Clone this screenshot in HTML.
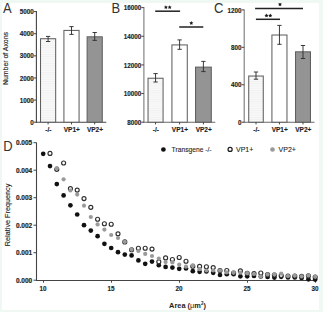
<!DOCTYPE html>
<html><head><meta charset="utf-8"><style>
html,body{margin:0;padding:0;background:#f0f8f4;}
body{width:323px;height:312px;position:relative;overflow:hidden;font-family:"Liberation Sans", sans-serif;}
svg text{font-family:"Liberation Sans", sans-serif;}
</style></head><body>
<svg width="323" height="312" viewBox="0 0 323 312" style="position:absolute;left:0;top:0">
<defs><pattern id="st" width="4" height="2.25" patternUnits="userSpaceOnUse"><rect width="4" height="2.25" fill="#f9f9f9"/><rect width="4" height="0.9" fill="#f0f0f0"/></pattern></defs>
<rect x="0" y="0" width="323" height="312" fill="#f0f8f4"/>
<rect x="2" y="3" width="317" height="307" fill="#ffffff"/>
<text x="0" y="0" font-size="14.4" fill="#333" transform="translate(3.0,12.6) scale(0.9,1)">A</text>
<text x="0" y="0" font-size="14.4" fill="#333" transform="translate(111.5,12.6) scale(0.9,1)">B</text>
<text x="0" y="0" font-size="14.4" fill="#333" transform="translate(214.1,13.2) scale(0.9,1)">C</text>
<text x="0" y="0" font-size="14.4" fill="#333" transform="translate(3.3,151) scale(0.9,1)">D</text>
<line x1="36.4" y1="11.1" x2="36.4" y2="122.7" stroke="#444444" stroke-width="1.1"/>
<line x1="35.9" y1="122.2" x2="106.3" y2="122.2" stroke="#444444" stroke-width="1.1"/>
<line x1="33.9" y1="122.2" x2="36.4" y2="122.2" stroke="#444444" stroke-width="1.0"/>
<text x="33.699999999999996" y="124.8" font-size="6.3" text-anchor="end" font-weight="bold" fill="#1e1e1e" stroke="#1e1e1e" stroke-width="0.15">0</text>
<line x1="33.9" y1="100.08" x2="36.4" y2="100.08" stroke="#444444" stroke-width="1.0"/>
<text x="33.699999999999996" y="102.67999999999999" font-size="6.3" text-anchor="end" font-weight="bold" fill="#1e1e1e" stroke="#1e1e1e" stroke-width="0.15">1000</text>
<line x1="33.9" y1="77.96000000000001" x2="36.4" y2="77.96000000000001" stroke="#444444" stroke-width="1.0"/>
<text x="33.699999999999996" y="80.56" font-size="6.3" text-anchor="end" font-weight="bold" fill="#1e1e1e" stroke="#1e1e1e" stroke-width="0.15">2000</text>
<line x1="33.9" y1="55.84" x2="36.4" y2="55.84" stroke="#444444" stroke-width="1.0"/>
<text x="33.699999999999996" y="58.440000000000005" font-size="6.3" text-anchor="end" font-weight="bold" fill="#1e1e1e" stroke="#1e1e1e" stroke-width="0.15">3000</text>
<line x1="33.9" y1="33.72" x2="36.4" y2="33.72" stroke="#444444" stroke-width="1.0"/>
<text x="33.699999999999996" y="36.32" font-size="6.3" text-anchor="end" font-weight="bold" fill="#1e1e1e" stroke="#1e1e1e" stroke-width="0.15">4000</text>
<line x1="33.9" y1="11.599999999999994" x2="36.4" y2="11.599999999999994" stroke="#444444" stroke-width="1.0"/>
<text x="33.699999999999996" y="14.199999999999994" font-size="6.3" text-anchor="end" font-weight="bold" fill="#1e1e1e" stroke="#1e1e1e" stroke-width="0.15">5000</text>
<rect x="40.52" y="38.73" width="15.15" height="83.47" fill="url(#st)" stroke="#606060" stroke-width="1.05"/>
<line x1="48.1" y1="36.4" x2="48.1" y2="41.5" stroke="#303030" stroke-width="0.95"/>
<line x1="45.95" y1="36.4" x2="50.25" y2="36.4" stroke="#303030" stroke-width="0.95"/>
<line x1="45.95" y1="41.5" x2="50.25" y2="41.5" stroke="#303030" stroke-width="0.95"/>
<line x1="48.1" y1="122.2" x2="48.1" y2="124.4" stroke="#444444" stroke-width="1.0"/>
<text x="48.4" y="132.1" font-size="6.5" text-anchor="middle" font-weight="bold" fill="#1e1e1e" stroke="#1e1e1e" stroke-width="0.15">-/-</text>
<rect x="63.92" y="30.42" width="15.15" height="91.78" fill="#ffffff" stroke="#606060" stroke-width="1.05"/>
<line x1="71.5" y1="26.6" x2="71.5" y2="34.4" stroke="#303030" stroke-width="0.95"/>
<line x1="69.35" y1="26.6" x2="73.65" y2="26.6" stroke="#303030" stroke-width="0.95"/>
<line x1="69.35" y1="34.4" x2="73.65" y2="34.4" stroke="#303030" stroke-width="0.95"/>
<line x1="71.5" y1="122.2" x2="71.5" y2="124.4" stroke="#444444" stroke-width="1.0"/>
<text x="71.8" y="132.1" font-size="6.5" text-anchor="middle" font-weight="bold" fill="#1e1e1e" stroke="#1e1e1e" stroke-width="0.15">VP1+</text>
<rect x="87.12" y="36.82" width="15.15" height="85.38" fill="#949494" stroke="#606060" stroke-width="1.05"/>
<line x1="94.69999999999999" y1="32.5" x2="94.69999999999999" y2="40.4" stroke="#303030" stroke-width="0.95"/>
<line x1="92.54999999999998" y1="32.5" x2="96.85" y2="32.5" stroke="#303030" stroke-width="0.95"/>
<line x1="92.54999999999998" y1="40.4" x2="96.85" y2="40.4" stroke="#303030" stroke-width="0.95"/>
<line x1="94.69999999999999" y1="122.2" x2="94.69999999999999" y2="124.4" stroke="#444444" stroke-width="1.0"/>
<text x="94.99999999999999" y="132.1" font-size="6.5" text-anchor="middle" font-weight="bold" fill="#1e1e1e" stroke="#1e1e1e" stroke-width="0.15">VP2+</text>
<text x="0" y="0" font-size="6.9" text-anchor="middle" fill="#222" stroke="#222" stroke-width="0.12" textLength="53" lengthAdjust="spacingAndGlyphs" transform="translate(7.7,58.5) rotate(-90)">Number of Axons</text>
<line x1="143.9" y1="7.1" x2="143.9" y2="122.7" stroke="#7a7a7a" stroke-width="1.1"/>
<line x1="143.4" y1="122.2" x2="215.3" y2="122.2" stroke="#686868" stroke-width="1.1"/>
<line x1="141.4" y1="122.2" x2="143.9" y2="122.2" stroke="#444444" stroke-width="1.0"/>
<text x="141.20000000000002" y="124.8" font-size="6.3" text-anchor="end" font-weight="bold" fill="#1e1e1e" stroke="#1e1e1e" stroke-width="0.15">8000</text>
<line x1="141.4" y1="93.55000000000001" x2="143.9" y2="93.55000000000001" stroke="#444444" stroke-width="1.0"/>
<text x="141.20000000000002" y="96.15" font-size="6.3" text-anchor="end" font-weight="bold" fill="#1e1e1e" stroke="#1e1e1e" stroke-width="0.15">10000</text>
<line x1="141.4" y1="64.9" x2="143.9" y2="64.9" stroke="#444444" stroke-width="1.0"/>
<text x="141.20000000000002" y="67.5" font-size="6.3" text-anchor="end" font-weight="bold" fill="#1e1e1e" stroke="#1e1e1e" stroke-width="0.15">12000</text>
<line x1="141.4" y1="36.250000000000014" x2="143.9" y2="36.250000000000014" stroke="#444444" stroke-width="1.0"/>
<text x="141.20000000000002" y="38.850000000000016" font-size="6.3" text-anchor="end" font-weight="bold" fill="#1e1e1e" stroke="#1e1e1e" stroke-width="0.15">14000</text>
<line x1="141.4" y1="7.6000000000000085" x2="143.9" y2="7.6000000000000085" stroke="#444444" stroke-width="1.0"/>
<text x="141.20000000000002" y="10.200000000000008" font-size="6.3" text-anchor="end" font-weight="bold" fill="#1e1e1e" stroke="#1e1e1e" stroke-width="0.15">16000</text>
<rect x="148.03" y="78.23" width="15.05" height="43.98" fill="url(#st)" stroke="#606060" stroke-width="1.05"/>
<line x1="155.55" y1="73.6" x2="155.55" y2="82.0" stroke="#303030" stroke-width="0.95"/>
<line x1="153.4" y1="73.6" x2="157.70000000000002" y2="73.6" stroke="#303030" stroke-width="0.95"/>
<line x1="153.4" y1="82.0" x2="157.70000000000002" y2="82.0" stroke="#303030" stroke-width="0.95"/>
<line x1="155.55" y1="122.2" x2="155.55" y2="124.4" stroke="#444444" stroke-width="1.0"/>
<text x="155.85000000000002" y="132.1" font-size="6.5" text-anchor="middle" font-weight="bold" fill="#1e1e1e" stroke="#1e1e1e" stroke-width="0.15">-/-</text>
<rect x="171.93" y="44.92" width="15.35" height="77.28" fill="#ffffff" stroke="#606060" stroke-width="1.05"/>
<line x1="179.60000000000002" y1="39.9" x2="179.60000000000002" y2="49.3" stroke="#303030" stroke-width="0.95"/>
<line x1="177.45000000000002" y1="39.9" x2="181.75000000000003" y2="39.9" stroke="#303030" stroke-width="0.95"/>
<line x1="177.45000000000002" y1="49.3" x2="181.75000000000003" y2="49.3" stroke="#303030" stroke-width="0.95"/>
<line x1="179.60000000000002" y1="122.2" x2="179.60000000000002" y2="124.4" stroke="#444444" stroke-width="1.0"/>
<text x="179.90000000000003" y="132.1" font-size="6.5" text-anchor="middle" font-weight="bold" fill="#1e1e1e" stroke="#1e1e1e" stroke-width="0.15">VP1+</text>
<rect x="195.53" y="67.12" width="15.75" height="55.08" fill="#949494" stroke="#606060" stroke-width="1.05"/>
<line x1="203.4" y1="61.4" x2="203.4" y2="71.6" stroke="#303030" stroke-width="0.95"/>
<line x1="201.25" y1="61.4" x2="205.55" y2="61.4" stroke="#303030" stroke-width="0.95"/>
<line x1="201.25" y1="71.6" x2="205.55" y2="71.6" stroke="#303030" stroke-width="0.95"/>
<line x1="203.4" y1="122.2" x2="203.4" y2="124.4" stroke="#444444" stroke-width="1.0"/>
<text x="203.70000000000002" y="132.1" font-size="6.5" text-anchor="middle" font-weight="bold" fill="#1e1e1e" stroke="#1e1e1e" stroke-width="0.15">VP2+</text>
<line x1="155.2" y1="11.2" x2="180.1" y2="11.2" stroke="#222" stroke-width="1.5"/>
<polygon points="165.90,5.15 166.52,6.45 167.94,6.64 166.90,7.62 167.16,9.04 165.90,8.35 164.64,9.04 164.90,7.62 163.86,6.64 165.28,6.45" fill="#1a1a1a"/>
<polygon points="169.70,5.15 170.32,6.45 171.74,6.64 170.70,7.62 170.96,9.04 169.70,8.35 168.44,9.04 168.70,7.62 167.66,6.64 169.08,6.45" fill="#1a1a1a"/>
<line x1="179.2" y1="27.0" x2="203.3" y2="27.0" stroke="#222" stroke-width="1.5"/>
<polygon points="191.30,20.95 191.92,22.25 193.34,22.44 192.30,23.42 192.56,24.84 191.30,24.15 190.04,24.84 190.30,23.42 189.26,22.44 190.68,22.25" fill="#1a1a1a"/>
<line x1="244.2" y1="9.4" x2="244.2" y2="122.7" stroke="#7a7a7a" stroke-width="1.1"/>
<line x1="243.7" y1="122.2" x2="314.5" y2="122.2" stroke="#686868" stroke-width="1.1"/>
<line x1="241.7" y1="122.2" x2="244.2" y2="122.2" stroke="#444444" stroke-width="1.0"/>
<text x="241.5" y="124.8" font-size="6.3" text-anchor="end" font-weight="bold" fill="#1e1e1e" stroke="#1e1e1e" stroke-width="0.15">0</text>
<line x1="241.7" y1="84.77000000000001" x2="244.2" y2="84.77000000000001" stroke="#444444" stroke-width="1.0"/>
<text x="241.5" y="87.37" font-size="6.3" text-anchor="end" font-weight="bold" fill="#1e1e1e" stroke="#1e1e1e" stroke-width="0.15">400</text>
<line x1="241.7" y1="47.34" x2="244.2" y2="47.34" stroke="#444444" stroke-width="1.0"/>
<text x="241.5" y="49.940000000000005" font-size="6.3" text-anchor="end" font-weight="bold" fill="#1e1e1e" stroke="#1e1e1e" stroke-width="0.15">800</text>
<line x1="241.7" y1="9.91000000000001" x2="244.2" y2="9.91000000000001" stroke="#444444" stroke-width="1.0"/>
<text x="241.5" y="12.51000000000001" font-size="6.3" text-anchor="end" font-weight="bold" fill="#1e1e1e" stroke="#1e1e1e" stroke-width="0.15">1200</text>
<rect x="248.72" y="76.03" width="14.55" height="46.18" fill="url(#st)" stroke="#606060" stroke-width="1.05"/>
<line x1="256.0" y1="72.0" x2="256.0" y2="79.2" stroke="#303030" stroke-width="0.95"/>
<line x1="253.85" y1="72.0" x2="258.15" y2="72.0" stroke="#303030" stroke-width="0.95"/>
<line x1="253.85" y1="79.2" x2="258.15" y2="79.2" stroke="#303030" stroke-width="0.95"/>
<line x1="256.0" y1="122.2" x2="256.0" y2="124.4" stroke="#444444" stroke-width="1.0"/>
<text x="256.3" y="132.1" font-size="6.5" text-anchor="middle" font-weight="bold" fill="#1e1e1e" stroke="#1e1e1e" stroke-width="0.15">-/-</text>
<rect x="271.92" y="35.02" width="15.05" height="87.17" fill="#ffffff" stroke="#606060" stroke-width="1.05"/>
<line x1="279.45" y1="25.4" x2="279.45" y2="44.3" stroke="#303030" stroke-width="0.95"/>
<line x1="277.3" y1="25.4" x2="281.59999999999997" y2="25.4" stroke="#303030" stroke-width="0.95"/>
<line x1="277.3" y1="44.3" x2="281.59999999999997" y2="44.3" stroke="#303030" stroke-width="0.95"/>
<line x1="279.45" y1="122.2" x2="279.45" y2="124.4" stroke="#444444" stroke-width="1.0"/>
<text x="279.75" y="132.1" font-size="6.5" text-anchor="middle" font-weight="bold" fill="#1e1e1e" stroke="#1e1e1e" stroke-width="0.15">VP1+</text>
<rect x="295.52" y="51.82" width="14.95" height="70.38" fill="#949494" stroke="#606060" stroke-width="1.05"/>
<line x1="303.0" y1="45.5" x2="303.0" y2="58.5" stroke="#303030" stroke-width="0.95"/>
<line x1="300.85" y1="45.5" x2="305.15" y2="45.5" stroke="#303030" stroke-width="0.95"/>
<line x1="300.85" y1="58.5" x2="305.15" y2="58.5" stroke="#303030" stroke-width="0.95"/>
<line x1="303.0" y1="122.2" x2="303.0" y2="124.4" stroke="#444444" stroke-width="1.0"/>
<text x="303.3" y="132.1" font-size="6.5" text-anchor="middle" font-weight="bold" fill="#1e1e1e" stroke="#1e1e1e" stroke-width="0.15">VP2+</text>
<line x1="255.1" y1="8.5" x2="303" y2="8.5" stroke="#222" stroke-width="1.5"/>
<polygon points="280.00,2.25 280.62,3.55 282.04,3.74 281.00,4.72 281.26,6.14 280.00,5.45 278.74,6.14 279.00,4.72 277.96,3.74 279.38,3.55" fill="#1a1a1a"/>
<line x1="255.9" y1="19.3" x2="280" y2="19.3" stroke="#222" stroke-width="1.5"/>
<polygon points="266.50,13.45 267.12,14.75 268.54,14.94 267.50,15.92 267.76,17.34 266.50,16.65 265.24,17.34 265.50,15.92 264.46,14.94 265.88,14.75" fill="#1a1a1a"/>
<polygon points="270.30,13.45 270.92,14.75 272.34,14.94 271.30,15.92 271.56,17.34 270.30,16.65 269.04,17.34 269.30,15.92 268.26,14.94 269.68,14.75" fill="#1a1a1a"/>
<line x1="36.5" y1="142.5" x2="36.5" y2="281.0" stroke="#444444" stroke-width="1.1"/>
<line x1="36.0" y1="280.5" x2="316" y2="280.5" stroke="#444444" stroke-width="1.1"/>
<line x1="33.5" y1="280.2" x2="36.5" y2="280.2" stroke="#444444" stroke-width="1.0"/>
<text x="32.2" y="282.8" font-size="6.3" text-anchor="end" font-weight="bold" fill="#1e1e1e" textLength="16.3" lengthAdjust="spacingAndGlyphs" stroke="#1e1e1e" stroke-width="0.18">0.000</text>
<line x1="33.5" y1="252.7" x2="36.5" y2="252.7" stroke="#444444" stroke-width="1.0"/>
<text x="32.2" y="255.29999999999998" font-size="6.3" text-anchor="end" font-weight="bold" fill="#1e1e1e" textLength="16.3" lengthAdjust="spacingAndGlyphs" stroke="#1e1e1e" stroke-width="0.18">0.001</text>
<line x1="33.5" y1="225.2" x2="36.5" y2="225.2" stroke="#444444" stroke-width="1.0"/>
<text x="32.2" y="227.79999999999998" font-size="6.3" text-anchor="end" font-weight="bold" fill="#1e1e1e" textLength="16.3" lengthAdjust="spacingAndGlyphs" stroke="#1e1e1e" stroke-width="0.18">0.002</text>
<line x1="33.5" y1="197.7" x2="36.5" y2="197.7" stroke="#444444" stroke-width="1.0"/>
<text x="32.2" y="200.29999999999998" font-size="6.3" text-anchor="end" font-weight="bold" fill="#1e1e1e" textLength="16.3" lengthAdjust="spacingAndGlyphs" stroke="#1e1e1e" stroke-width="0.18">0.003</text>
<line x1="33.5" y1="170.2" x2="36.5" y2="170.2" stroke="#444444" stroke-width="1.0"/>
<text x="32.2" y="172.79999999999998" font-size="6.3" text-anchor="end" font-weight="bold" fill="#1e1e1e" textLength="16.3" lengthAdjust="spacingAndGlyphs" stroke="#1e1e1e" stroke-width="0.18">0.004</text>
<line x1="33.5" y1="142.7" x2="36.5" y2="142.7" stroke="#444444" stroke-width="1.0"/>
<text x="32.2" y="145.29999999999998" font-size="6.3" text-anchor="end" font-weight="bold" fill="#1e1e1e" textLength="16.3" lengthAdjust="spacingAndGlyphs" stroke="#1e1e1e" stroke-width="0.18">0.005</text>
<line x1="43.5" y1="280.5" x2="43.5" y2="282.7" stroke="#444444" stroke-width="1.0"/>
<text x="43.0" y="290.9" font-size="6.3" text-anchor="middle" font-weight="bold" fill="#1e1e1e" stroke="#1e1e1e" stroke-width="0.15">10</text>
<line x1="111.5" y1="280.5" x2="111.5" y2="282.7" stroke="#444444" stroke-width="1.0"/>
<text x="111.0" y="290.9" font-size="6.3" text-anchor="middle" font-weight="bold" fill="#1e1e1e" stroke="#1e1e1e" stroke-width="0.15">15</text>
<line x1="179.5" y1="280.5" x2="179.5" y2="282.7" stroke="#444444" stroke-width="1.0"/>
<text x="179.0" y="290.9" font-size="6.3" text-anchor="middle" font-weight="bold" fill="#1e1e1e" stroke="#1e1e1e" stroke-width="0.15">20</text>
<line x1="247.5" y1="280.5" x2="247.5" y2="282.7" stroke="#444444" stroke-width="1.0"/>
<text x="247.0" y="290.9" font-size="6.3" text-anchor="middle" font-weight="bold" fill="#1e1e1e" stroke="#1e1e1e" stroke-width="0.15">25</text>
<line x1="315.5" y1="280.5" x2="315.5" y2="282.7" stroke="#444444" stroke-width="1.0"/>
<text x="315.0" y="290.9" font-size="6.3" text-anchor="middle" font-weight="bold" fill="#1e1e1e" stroke="#1e1e1e" stroke-width="0.15">30</text>
<text x="187.5" y="308" font-size="7.4" text-anchor="middle" font-weight="bold" fill="#1e1e1e" >Area (<tspan font-weight="normal">&#956;</tspan>m<tspan font-size="4.5" dy="-2.6">2</tspan><tspan dy="2.6">)</tspan></text>
<text x="0" y="0" font-size="7.2" text-anchor="middle" fill="#222" stroke="#222" stroke-width="0.12" textLength="62.5" lengthAdjust="spacingAndGlyphs" transform="translate(9.8,214.9) rotate(-90)">Relative Frequency</text>
<circle cx="163.40" cy="149.5" r="2.35" fill="#111"/>
<text x="171.6" y="152.2" font-size="7.0" text-anchor="start" font-weight="normal" fill="#1e1e1e" textLength="40" lengthAdjust="spacingAndGlyphs" stroke="#1e1e1e" stroke-width="0.1">Transgene -/-</text>
<circle cx="230.1" cy="149.4" r="2.05" fill="#fff" stroke="#1a1a1a" stroke-width="1.2"/>
<text x="236" y="152.3" font-size="7.0" text-anchor="start" font-weight="normal" fill="#1e1e1e" stroke="#1e1e1e" stroke-width="0.1">VP1+</text>
<circle cx="272.50" cy="149.5" r="2.35" fill="#9a9a9a"/>
<text x="278.6" y="152.3" font-size="7.0" text-anchor="start" font-weight="normal" fill="#1e1e1e" stroke="#1e1e1e" stroke-width="0.1">VP2+</text>
<circle cx="43.20" cy="153.8" r="2.35" fill="#111"/>
<circle cx="50.00" cy="166.1" r="2.35" fill="#111"/>
<circle cx="56.80" cy="184.1" r="2.35" fill="#111"/>
<circle cx="63.60" cy="195.4" r="2.35" fill="#111"/>
<circle cx="70.40" cy="205.3" r="2.35" fill="#111"/>
<circle cx="77.20" cy="214.5" r="2.35" fill="#111"/>
<circle cx="84.00" cy="225.2" r="2.35" fill="#111"/>
<circle cx="90.80" cy="230.6" r="2.35" fill="#111"/>
<circle cx="97.60" cy="236.2" r="2.35" fill="#111"/>
<circle cx="104.40" cy="243.8" r="2.35" fill="#111"/>
<circle cx="111.20" cy="248" r="2.35" fill="#111"/>
<circle cx="118.00" cy="252.2" r="2.35" fill="#111"/>
<circle cx="124.80" cy="254.6" r="2.35" fill="#111"/>
<circle cx="131.60" cy="255.4" r="2.35" fill="#111"/>
<circle cx="138.40" cy="260.4" r="2.35" fill="#111"/>
<circle cx="145.20" cy="263.8" r="2.35" fill="#111"/>
<circle cx="152.00" cy="261.6" r="2.35" fill="#111"/>
<circle cx="158.80" cy="265.2" r="2.35" fill="#111"/>
<circle cx="165.60" cy="266.9" r="2.35" fill="#111"/>
<circle cx="172.40" cy="267.6" r="2.35" fill="#111"/>
<circle cx="179.20" cy="268.8" r="2.35" fill="#111"/>
<circle cx="186.00" cy="268.5" r="2.35" fill="#111"/>
<circle cx="192.80" cy="271.2" r="2.35" fill="#111"/>
<circle cx="199.60" cy="271.8" r="2.35" fill="#111"/>
<circle cx="206.40" cy="271.5" r="2.35" fill="#111"/>
<circle cx="213.20" cy="272.8" r="2.35" fill="#111"/>
<circle cx="220.00" cy="275" r="2.35" fill="#111"/>
<circle cx="226.80" cy="274.2" r="2.35" fill="#111"/>
<circle cx="233.60" cy="274.2" r="2.35" fill="#111"/>
<circle cx="240.40" cy="276.3" r="2.35" fill="#111"/>
<circle cx="247.20" cy="276.3" r="2.35" fill="#111"/>
<circle cx="254.00" cy="276" r="2.35" fill="#111"/>
<circle cx="260.80" cy="276.5" r="2.35" fill="#111"/>
<circle cx="267.60" cy="277" r="2.35" fill="#111"/>
<circle cx="274.40" cy="277.6" r="2.35" fill="#111"/>
<circle cx="281.20" cy="276.8" r="2.35" fill="#111"/>
<circle cx="288.00" cy="277.5" r="2.35" fill="#111"/>
<circle cx="294.80" cy="277.5" r="2.35" fill="#111"/>
<circle cx="301.60" cy="278" r="2.35" fill="#111"/>
<circle cx="308.40" cy="279.3" r="2.35" fill="#111"/>
<circle cx="315.20" cy="279.6" r="2.35" fill="#111"/>
<circle cx="50.0" cy="153.4" r="2.0" fill="#fff" stroke="#2e2e2e" stroke-width="1.15"/>
<circle cx="56.800000000000004" cy="169.3" r="2.0" fill="#fff" stroke="#2e2e2e" stroke-width="1.15"/>
<circle cx="63.6" cy="163.0" r="2.0" fill="#fff" stroke="#2e2e2e" stroke-width="1.15"/>
<circle cx="70.4" cy="188.6" r="2.0" fill="#fff" stroke="#2e2e2e" stroke-width="1.15"/>
<circle cx="77.2" cy="190.1" r="2.0" fill="#fff" stroke="#2e2e2e" stroke-width="1.15"/>
<circle cx="84.0" cy="198.6" r="2.0" fill="#fff" stroke="#2e2e2e" stroke-width="1.15"/>
<circle cx="90.80000000000001" cy="207.3" r="2.0" fill="#fff" stroke="#2e2e2e" stroke-width="1.15"/>
<circle cx="97.6" cy="219.2" r="2.0" fill="#fff" stroke="#2e2e2e" stroke-width="1.15"/>
<circle cx="104.4" cy="223.7" r="2.0" fill="#fff" stroke="#2e2e2e" stroke-width="1.15"/>
<circle cx="111.2" cy="224.2" r="2.0" fill="#fff" stroke="#2e2e2e" stroke-width="1.15"/>
<circle cx="118.0" cy="233.8" r="2.0" fill="#fff" stroke="#2e2e2e" stroke-width="1.15"/>
<circle cx="124.8" cy="241.9" r="2.0" fill="#fff" stroke="#2e2e2e" stroke-width="1.15"/>
<circle cx="131.6" cy="249.7" r="2.0" fill="#fff" stroke="#2e2e2e" stroke-width="1.15"/>
<circle cx="138.4" cy="248.2" r="2.0" fill="#fff" stroke="#2e2e2e" stroke-width="1.15"/>
<circle cx="145.2" cy="248.2" r="2.0" fill="#fff" stroke="#2e2e2e" stroke-width="1.15"/>
<circle cx="152.0" cy="249.1" r="2.0" fill="#fff" stroke="#2e2e2e" stroke-width="1.15"/>
<circle cx="158.8" cy="261.8" r="2.0" fill="#fff" stroke="#2e2e2e" stroke-width="1.15"/>
<circle cx="165.6" cy="257.9" r="2.0" fill="#fff" stroke="#2e2e2e" stroke-width="1.15"/>
<circle cx="172.39999999999998" cy="259.5" r="2.0" fill="#fff" stroke="#2e2e2e" stroke-width="1.15"/>
<circle cx="179.2" cy="257.5" r="2.0" fill="#fff" stroke="#2e2e2e" stroke-width="1.15"/>
<circle cx="186.0" cy="261.2" r="2.0" fill="#fff" stroke="#2e2e2e" stroke-width="1.15"/>
<circle cx="192.8" cy="266.2" r="2.0" fill="#fff" stroke="#2e2e2e" stroke-width="1.15"/>
<circle cx="199.60000000000002" cy="266.4" r="2.0" fill="#fff" stroke="#2e2e2e" stroke-width="1.15"/>
<circle cx="206.39999999999998" cy="266.7" r="2.0" fill="#fff" stroke="#2e2e2e" stroke-width="1.15"/>
<circle cx="213.2" cy="267.6" r="2.0" fill="#fff" stroke="#2e2e2e" stroke-width="1.15"/>
<circle cx="220.0" cy="270.6" r="2.0" fill="#fff" stroke="#2e2e2e" stroke-width="1.15"/>
<circle cx="226.8" cy="270.5" r="2.0" fill="#fff" stroke="#2e2e2e" stroke-width="1.15"/>
<circle cx="233.60000000000002" cy="273" r="2.0" fill="#fff" stroke="#2e2e2e" stroke-width="1.15"/>
<circle cx="240.39999999999998" cy="270.9" r="2.0" fill="#fff" stroke="#2e2e2e" stroke-width="1.15"/>
<circle cx="247.2" cy="273.3" r="2.0" fill="#fff" stroke="#2e2e2e" stroke-width="1.15"/>
<circle cx="254.0" cy="273.6" r="2.0" fill="#fff" stroke="#2e2e2e" stroke-width="1.15"/>
<circle cx="260.8" cy="273" r="2.0" fill="#fff" stroke="#2e2e2e" stroke-width="1.15"/>
<circle cx="267.6" cy="274.5" r="2.0" fill="#fff" stroke="#2e2e2e" stroke-width="1.15"/>
<circle cx="274.4" cy="275" r="2.0" fill="#fff" stroke="#2e2e2e" stroke-width="1.15"/>
<circle cx="281.2" cy="275.5" r="2.0" fill="#fff" stroke="#2e2e2e" stroke-width="1.15"/>
<circle cx="288.0" cy="276" r="2.0" fill="#fff" stroke="#2e2e2e" stroke-width="1.15"/>
<circle cx="294.8" cy="276" r="2.0" fill="#fff" stroke="#2e2e2e" stroke-width="1.15"/>
<circle cx="301.59999999999997" cy="276.3" r="2.0" fill="#fff" stroke="#2e2e2e" stroke-width="1.15"/>
<circle cx="308.4" cy="275.8" r="2.0" fill="#fff" stroke="#2e2e2e" stroke-width="1.15"/>
<circle cx="315.2" cy="277" r="2.0" fill="#fff" stroke="#2e2e2e" stroke-width="1.15"/>
<circle cx="56.80" cy="168.2" r="2.1" fill="#9a9a9a"/>
<circle cx="63.60" cy="179.3" r="2.1" fill="#9a9a9a"/>
<circle cx="70.40" cy="190.5" r="2.1" fill="#9a9a9a"/>
<circle cx="77.20" cy="194.6" r="2.1" fill="#9a9a9a"/>
<circle cx="84.00" cy="205.7" r="2.1" fill="#9a9a9a"/>
<circle cx="90.80" cy="217.0" r="2.1" fill="#9a9a9a"/>
<circle cx="97.60" cy="224.4" r="2.1" fill="#9a9a9a"/>
<circle cx="104.40" cy="229.6" r="2.1" fill="#9a9a9a"/>
<circle cx="111.20" cy="235.0" r="2.1" fill="#9a9a9a"/>
<circle cx="118.00" cy="238.0" r="2.1" fill="#9a9a9a"/>
<circle cx="124.80" cy="241.8" r="2.1" fill="#9a9a9a"/>
<circle cx="131.60" cy="249.6" r="2.1" fill="#9a9a9a"/>
<circle cx="138.40" cy="251.0" r="2.1" fill="#9a9a9a"/>
<circle cx="145.20" cy="253.9" r="2.1" fill="#9a9a9a"/>
<circle cx="152.00" cy="256.0" r="2.1" fill="#9a9a9a"/>
<circle cx="158.80" cy="258.6" r="2.1" fill="#9a9a9a"/>
<circle cx="165.60" cy="262.1" r="2.1" fill="#9a9a9a"/>
<circle cx="172.40" cy="262.4" r="2.1" fill="#9a9a9a"/>
<circle cx="179.20" cy="264.7" r="2.1" fill="#9a9a9a"/>
<circle cx="186.00" cy="266.7" r="2.1" fill="#9a9a9a"/>
<circle cx="192.80" cy="265.4" r="2.1" fill="#9a9a9a"/>
<circle cx="199.60" cy="269.2" r="2.1" fill="#9a9a9a"/>
<circle cx="206.40" cy="270.5" r="2.1" fill="#9a9a9a"/>
<circle cx="213.20" cy="270.5" r="2.1" fill="#9a9a9a"/>
<circle cx="220.00" cy="270.5" r="2.1" fill="#9a9a9a"/>
<circle cx="226.80" cy="272.4" r="2.1" fill="#9a9a9a"/>
<circle cx="233.60" cy="272.4" r="2.1" fill="#9a9a9a"/>
<circle cx="240.40" cy="272.6" r="2.1" fill="#9a9a9a"/>
<circle cx="247.20" cy="273.2" r="2.1" fill="#9a9a9a"/>
<circle cx="254.00" cy="274" r="2.1" fill="#9a9a9a"/>
<circle cx="260.80" cy="276.3" r="2.1" fill="#9a9a9a"/>
<circle cx="267.60" cy="274.4" r="2.1" fill="#9a9a9a"/>
<circle cx="274.40" cy="274.2" r="2.1" fill="#9a9a9a"/>
<circle cx="281.20" cy="273.6" r="2.1" fill="#9a9a9a"/>
<circle cx="288.00" cy="276" r="2.1" fill="#9a9a9a"/>
<circle cx="294.80" cy="275.5" r="2.1" fill="#9a9a9a"/>
<circle cx="301.60" cy="276.3" r="2.1" fill="#9a9a9a"/>
<circle cx="308.40" cy="275.5" r="2.1" fill="#9a9a9a"/>
<circle cx="315.20" cy="276.6" r="2.1" fill="#9a9a9a"/>
<path d="M0 0H323V312H0Z M2 3V310H319V3Z" fill="#f0f8f4" fill-rule="evenodd"/>
</svg>
</body></html>
